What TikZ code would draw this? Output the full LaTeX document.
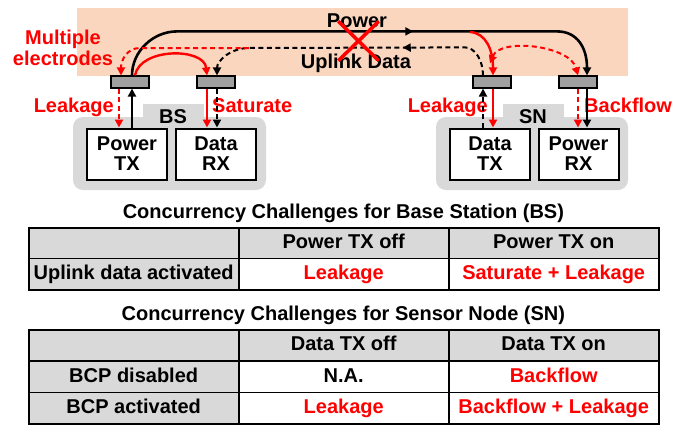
\documentclass[tikz,border=0pt]{standalone}
\usepackage{fontspec}
\setmainfont{Liberation Sans}
\usetikzlibrary{positioning,calc,arrows.meta,decorations.markings,shapes.misc}
\definecolor{padpeach}{RGB}{251,214,191}
\definecolor{panelgray}{RGB}{217,217,217}
\definecolor{padgray}{RGB}{160,160,160}
\definecolor{warnred}{RGB}{255,0,0}

\begin{document}
\begin{tikzpicture}[
    x=1pt, y=-1pt,
    font=\fontsize{20}{20}\selectfont\bfseries,
    inner sep=0pt,
    arr/.style={-{Triangle[length=8pt,width=8pt]}},
    blk/.style={arr, line width=2pt},
    leak/.style={arr, line width=2.4pt, warnred},
    dsh/.style={dash pattern=on 5pt off 3.5pt, line width=2pt},
    pad/.style={draw, line width=1.2pt, fill=padgray, minimum width=38pt, minimum height=12pt},
    unit/.style={draw, line width=2pt, fill=white, minimum width=80pt, minimum height=51pt, align=center},
    cell/.style={draw, line width=1.6pt, fill=white, minimum width=210pt, minimum height=31.3pt, text height=14.5pt, text depth=4pt},
    head/.style={cell, fill=panelgray},
    midarrow/.style={postaction={decorate}, decoration={markings, mark=at position #1 with {\arrow{Triangle[length=8pt,width=8pt]}}}},
]
\useasboundingbox (0,0) rectangle (684,426);

% link area and the two units
\fill[padpeach] (77,8) rectangle (628,76);
\fill[panelgray, rounded corners=10pt] (73,117) rectangle (266,190);
\fill[panelgray] (143,104) rectangle (204,120);
\fill[panelgray, rounded corners=10pt] (436,117) rectangle (628,190);
\fill[panelgray] (503,104) rectangle (564,120);

\node[anchor=base] (bslabel) at (173,123) {BS};
\node[anchor=base] (snlabel) at (533,123) {SN};

% electrodes
\node[pad] (bsL) at (130,82) {};
\node[pad] (bsR) at (216,82) {};
\node[pad] (snL) at (492,82) {};
\node[pad] (snR) at (578,82) {};

% blocks
\node[unit] (ptx) at (127,154) {Power\\TX};
\node[unit] (drx) at (216,154) {Data\\RX};
\node[unit] (dtx) at (490,154) {Data\\TX};
\node[unit] (prx) at (578.5,154) {Power\\RX};

% labels
\node[anchor=base] (pwr) at (357,27) {Power};
\node[anchor=base] (upl) at (356,68) {Uplink Data};
\node[warnred, align=center, font=\fontsize{20}{21}\selectfont\bfseries] (multi) at (63,48) {Multiple\\electrodes};
\node[warnred, anchor=base east] (leakbs) at (114,112) {Leakage};
\node[warnred, anchor=base west] (sat) at (212,112) {Saturate};
\node[warnred, anchor=base east] (leaksn) at (488,112) {Leakage};
\node[warnred, anchor=base west] (back) at (584,112) {Backflow};

% power link
\draw[arr, line width=2.6pt, midarrow=0.6] ([xshift=2pt]bsL.north) .. controls +(0,-24) and +(-24,0) .. ++(45,-44)
    -- ([xshift=-21pt,yshift=44pt]snR.north) .. controls +(20,0) and +(0,-28) .. ([xshift=9pt]snR.north);
% uplink data
\coordinate (split) at (249,48);
\coordinate (tap) at (470,32);
\draw[blk, dsh, midarrow=0.33] ([xshift=-9pt]snL.north) .. controls +(0,-15) and +(10,0) .. ++(-18,-28)
    -- (split) .. controls +(-18,0) and +(0,-15) .. ([xshift=1pt]bsR.north);
\draw[leak, dsh] (split) -- (140,48) .. controls (127,48) and (121,60) .. ([xshift=-9pt]bsL.north);
\draw[leak] ([xshift=5pt]bsL.north) .. controls +(5,-28) and +(-3,-28) .. ([xshift=-9pt]bsR.north);
\draw[leak] (tap) .. controls (486,33) and (493,50) .. ([xshift=1pt]snL.north);
\draw[leak, dsh, {Triangle[length=8pt,width=8pt]}-{Triangle[length=8pt,width=8pt]}]
    ([xshift=-2pt,yshift=12pt]snL.north) .. controls +(10,-26) and +(-8,-30) .. (snR.north);
\node[cross out, draw=warnred, line width=3.5pt, minimum width=37pt, minimum height=36pt] (block) at (358.5,41) {};

% electrode to block
\draw[blk] ($(bsL.south |- ptx.north)+(2,0)$) -- ($(bsL.south)+(2,0)$);
\draw[leak, dsh] ($(bsL.south)+(-11,0)$) -- ($(bsL.south |- ptx.north)+(-11,0)$);
\draw[leak] ($(bsR.south)+(-9,0)$) -- ($(bsR.south |- drx.north)+(-9,0)$);
\draw[blk, dsh] ($(bsR.south)+(1,0)$) -- ($(bsR.south |- drx.north)+(1,0)$);
\draw[blk, dsh] ($(snL.south |- dtx.north)+(-9,0)$) -- ($(snL.south)+(-9,0)$);
\draw[leak] ($(snL.south)+(1,0)$) -- ($(snL.south |- dtx.north)+(1,0)$);
\draw[leak, dsh] (snR.south) -- (snR.south |- prx.north);
\draw[blk] ($(snR.south)+(9,0)$) -- ($(snR.south |- prx.north)+(9,0)$);

% table for BS
\node[anchor=base] (bstitle) at (343.4,218) {Concurrency Challenges for Base Station (BS)};
\node[head] (bs00) at (133.7,243.4) {};
\node[head] (bs01) at (343.7,243.4) {Power TX off};
\node[head] (bs02) at (553.7,243.4) {Power TX on};
\node[head] (bs10) at (133.7,274.3) {Uplink data activated};
\node[cell, text=warnred] (bs11) at (343.7,274.3) {Leakage};
\node[cell, text=warnred] (bs12) at (553.7,274.3) {Saturate + Leakage};

% table for SN
\node[anchor=base] (sntitle) at (343.4,320) {Concurrency Challenges for Sensor Node (SN)};
\node[head] (sn00) at (133.7,345.5) {};
\node[head] (sn01) at (343.7,345.5) {Data TX off};
\node[head] (sn02) at (553.7,345.5) {Data TX on};
\node[head] (sn10) at (133.7,376.8) {BCP disabled};
\node[cell] (sn11) at (343.7,376.8) {N.A.};
\node[cell, text=warnred] (sn12) at (553.7,376.8) {Backflow};
\node[head] (sn20) at (133.7,408.1) {BCP activated};
\node[cell, text=warnred] (sn21) at (343.7,408.1) {Leakage};
\node[cell, text=warnred] (sn22) at (553.7,408.1) {Backflow + Leakage};
\end{tikzpicture}
\end{document}
